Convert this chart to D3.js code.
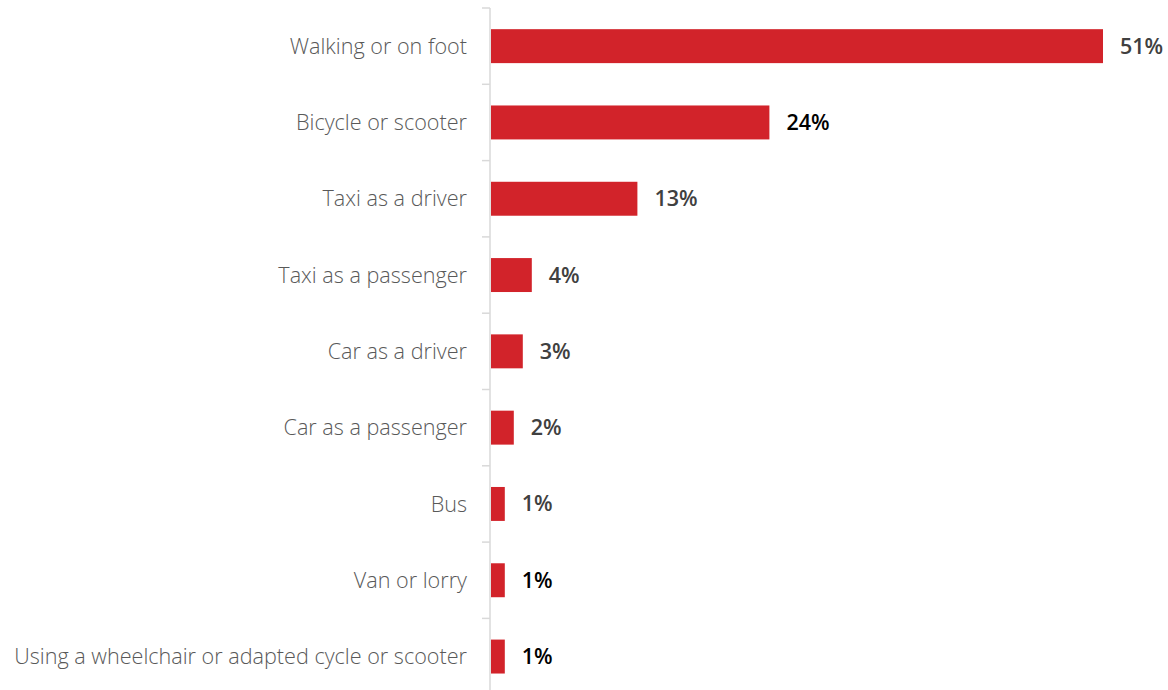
<!DOCTYPE html>
<html>
<head>
<meta charset="utf-8">
<script src="https://cdn.jsdelivr.net/npm/d3@7"></script>
<style>
  body { margin: 0; background: #fff; }
  svg { display: block; }
</style>
</head>
<body>
<div id="chart"></div>
<script>
    // values, labels as printed on the chart
    const categories = ["Walking or on foot", "Bicycle or scooter", "Taxi as a driver", "Taxi as a passenger",
        "Car as a driver", "Car as a passenger", "Bus", "Van or lorry", "Using a wheelchair or adapted cycle or scooter"];
    const values = [51.0, 23.2, 12.2, 3.4, 2.65, 1.9, 1.15, 1.15, 1.15];
    const valueLabels = ["51%", "24%", "13%", "4%", "3%", "2%", "1%", "1%", "1%"];

    function create_hbar(targetElementId) {
        const W = 1168, H = 690;
        const axisX = 490;
        const svg = d3.select(`#${targetElementId}`).append("svg")
            .attr("width", W)
            .attr("height", H);

        const data = categories.map((c, i) => ({ c, v: values[i], label: valueLabels[i], i }));

        // Create scales
        const x = d3.scaleLinear()
            .domain([0, 51])
            .range([axisX + 1, 1103]);

        const y = d3.scaleBand()
            .domain(categories)
            .range([8, 8 + 9 * 76.3])
            .paddingInner(0.555)
            .paddingOuter(0.2775);

        const step = y.step();

        // axis line
        svg.append("line")
            .attr("x1", axisX).attr("x2", axisX)
            .attr("y1", 8).attr("y2", H)
            .style("stroke", "#d9d9d9")
            .style("stroke-width", 1.5);

        // ticks between categories
        svg.selectAll(".tickLine")
            .data(categories)
            .enter()
            .append("line")
                .attr("class", "tickLine")
                .attr("x1", axisX - 8)
                .attr("x2", axisX)
                .attr("y1", d => y(d) - y.paddingOuter() * step)
                .attr("y2", d => y(d) - y.paddingOuter() * step)
                .style("stroke", "#d9d9d9")
                .style("stroke-width", 1.5);

        // bars
        svg.selectAll(".bar")
            .data(data)
            .enter()
            .append("rect")
                .attr("class", "bar")
                .attr("x", x(0))
                .attr("y", d => y(d.c))
                .attr("width", d => x(d.v) - x(0))
                .attr("height", y.bandwidth())
                .style("fill", "#d2232a");

        // category labels
        svg.selectAll(".catLabel")
            .data(data)
            .enter()
            .append("text")
                .attr("class", "catLabel")
                .attr("x", axisX - 23)
                .attr("y", d => y(d.c) + y.bandwidth() / 2)
                .attr("dy", "0.35em")
                .attr("text-anchor", "end")
                .style("font-family", "'Open Sans', sans-serif")
                .style("font-weight", 300)
                .style("font-size", "21.6px")
                .style("fill", "#595959")
                .text(d => d.c);

        // value labels (a few print in black in the original)
        const blackOnes = [1, 7, 8];
        svg.selectAll(".valLabel")
            .data(data)
            .enter()
            .append("text")
                .attr("class", "valLabel")
                .attr("x", d => x(d.v) + 17)
                .attr("y", d => y(d.c) + y.bandwidth() / 2)
                .attr("dy", "0.35em")
                .attr("text-anchor", "start")
                .style("font-family", "'Open Sans', sans-serif")
                .style("font-weight", 600)
                .style("font-size", "21.5px")
                .style("fill", d => blackOnes.includes(d.i) ? "#000" : "#404040")
                .text(d => d.label);
    }

    create_hbar("chart");
</script>
</body>
</html>
